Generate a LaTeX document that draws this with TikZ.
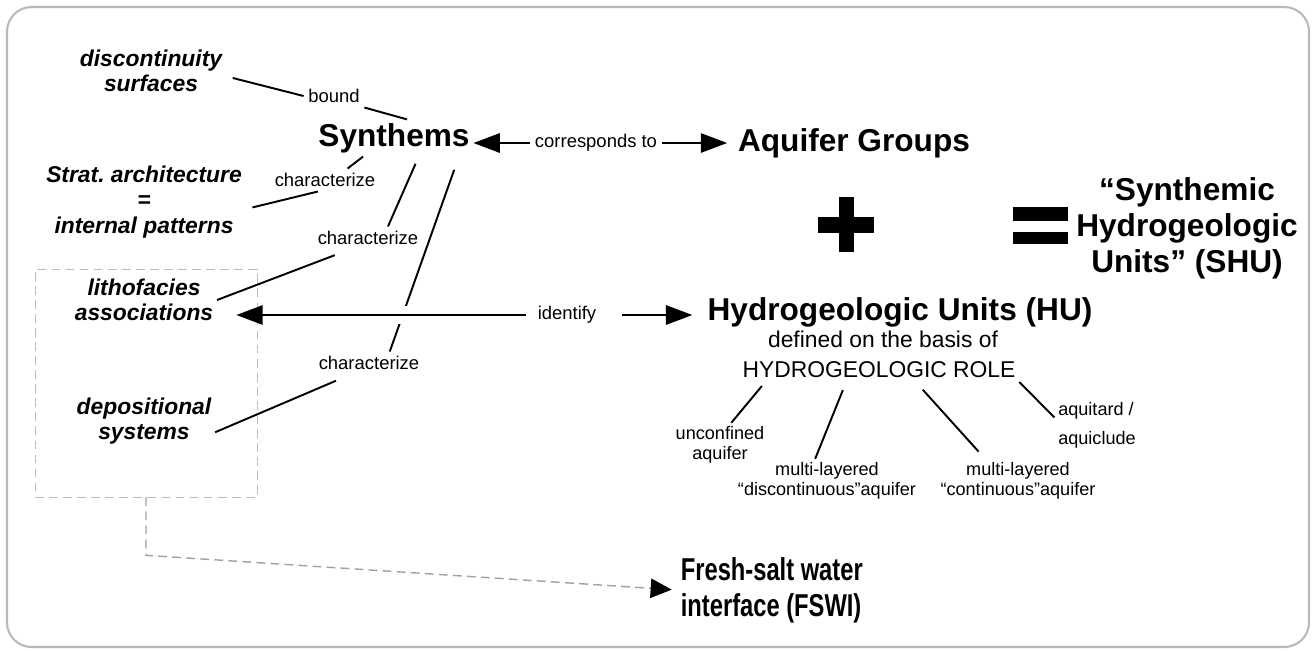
\documentclass[tikz,border=0pt]{standalone}
\usepackage{fontspec}
\setmainfont{Liberation Sans}
\newfontfamily\narrowsans{Liberation Sans}[FakeStretch=0.75]
\usepackage{tikz}
\usetikzlibrary{arrows.meta}
\definecolor{framegrey}{RGB}{185,185,185}
\definecolor{dashgrey}{RGB}{160,160,160}
\tikzset{%
    hydrounit/.style={font=\bfseries\fontsize{18}{20.4}\selectfont, inner sep=2pt},
    facies/.style={font=\bfseries\itshape\fontsize{13}{14.5}\selectfont, align=center, inner sep=2pt},
    relword/.style={font=\fontsize{10.5}{12}\selectfont, inner sep=2.5pt},
    rolelabel/.style={font=\fontsize{10.3}{11.3}\selectfont, align=center, inner sep=2pt},
    link/.style={line width=1.1pt},
    bigtip/.style={-{Triangle[length=15pt,width=11pt]}, line width=1.1pt}
}

\begin{document}
\begin{tikzpicture}[x=0.02cm, y=-0.02cm]
    \useasboundingbox (0,0) rectangle (1313,650);
    \draw[framegrey, line width=1.2pt, rounded corners=14pt] (7,7) rectangle (1309,647);

    \node[facies] (disc) at (151,71) {discontinuity\\surfaces};
    \node[facies] (strat) at (144,202) {Strat.\ architecture\\=\\internal patterns};
    \node[facies] (litho) at (144,300) {lithofacies\\associations};
    \node[facies] (depo) at (144,421) {depositional\\systems};

    \node[hydrounit] (synth) at (394,138) {Synthems};
    \node[hydrounit] (aqg) at (854,143) {Aquifer Groups};
    \node[hydrounit] (hu) at (900,312) {Hydrogeologic Units (HU)};
    \node[hydrounit, font=\narrowsans\bfseries\fontsize{18}{20.4}\selectfont, align=left, anchor=west] (fswi) at (677,590) {Fresh-salt water\\interface (FSWI)};
    \node[hydrounit, font=\bfseries\fontsize{18}{20.5}\selectfont, align=center] (shu) at (1187,228) {“Synthemic\\Hydrogeologic\\Units” (SHU)};

    \node[relword] (bound) at (334,96) {bound};
    \node[relword] (corr) at (596,143) {corresponds to};
    \node[relword] (char1) at (325,180) {characterize};
    \node[relword] (char2) at (368,238) {characterize};
    \node[relword] (char3) at (369,363) {characterize};
    \node[relword] (ident) at (567,315) {identify};

    \node[font=\fontsize{13}{15}\selectfont, inner sep=2pt] (defd) at (883,339) {defined on the basis of};
    \node[font=\fontsize{13}{15}\selectfont, inner sep=2pt] (role) at (879,370) {HYDROGEOLOGIC ROLE};
    \node[rolelabel] (unconf) at (720,445) {unconfined\\aquifer};
    \node[rolelabel] (discaq) at (827,481) {multi-layered\\“discontinuous”aquifer};
    \node[rolelabel] (contaq) at (1018,481) {multi-layered\\“continuous”aquifer};
    \node[rolelabel, font=\fontsize{10.3}{16.4}\selectfont, align=left] (aquit) at (1097,425) {aquitard /\\aquiclude};

    % plus and equal signs
    \fill (818,217) rectangle (874,233);
    \fill (839,197) rectangle (854,252);
    \fill (1013,207) rectangle (1068,221);
    \fill (1013,232) rectangle (1068,244);

    \draw[link, shorten <=4pt] (disc.-4) -- (bound.west);
    \draw[link] (bound.south east) -- (synth.55);
    \draw[link] (synth.211) -- (char1.27);
    \draw[link, shorten >=4pt] (char1.238) -- (strat.-4);
    \draw[link, shorten <=4.5pt] (synth.-37) -- (char2.30);
    \draw[link, shorten <=9pt] (char2.212) -- (litho.east);
    \draw[link, shorten <=8pt] (synth.-16) -- (char3.29);
    \draw[link, shorten <=9pt] (char3.212) -- (depo.-9);

    \draw[bigtip] (corr.west) -- (corr.west -| synth.east);
    \draw[bigtip, shorten >=4pt] (corr.east) -- (corr.east -| aqg.west);
    \draw[white, line width=10pt, shorten <=4pt, shorten >=11pt] (ident.west) -- (ident.west -| litho.east);

    \node[draw=dashgrey!70, dash pattern=on 5pt off 3pt, minimum width=4.44cm, minimum height=4.56cm] (box) at (146,383) {};

    \draw[bigtip, shorten <=4pt, shorten >=11pt] (ident.west) -- (ident.west -| litho.east);
    \draw[bigtip, shorten <=12pt, shorten >=6.5pt] (ident.east) -- (ident.east -| hu.west);
    \draw[dashgrey, dash pattern=on 5pt off 3pt, line width=0.8pt, -{Triangle[length=12pt,width=11pt,black]}, shorten >=3pt] (box.south) -- ++(0,58) -- (fswi.west);

    \draw[link, shorten <=3pt] (role.186) -- (unconf.63);
    \draw[link, shorten <=5pt] (role.200) -- (discaq.118);
    \draw[link, shorten <=6pt, shorten >=5.5pt] (role.-18) -- (contaq.146);
    \draw[link] (role.south east) -- (aquit.170);
\end{tikzpicture}
\end{document}
